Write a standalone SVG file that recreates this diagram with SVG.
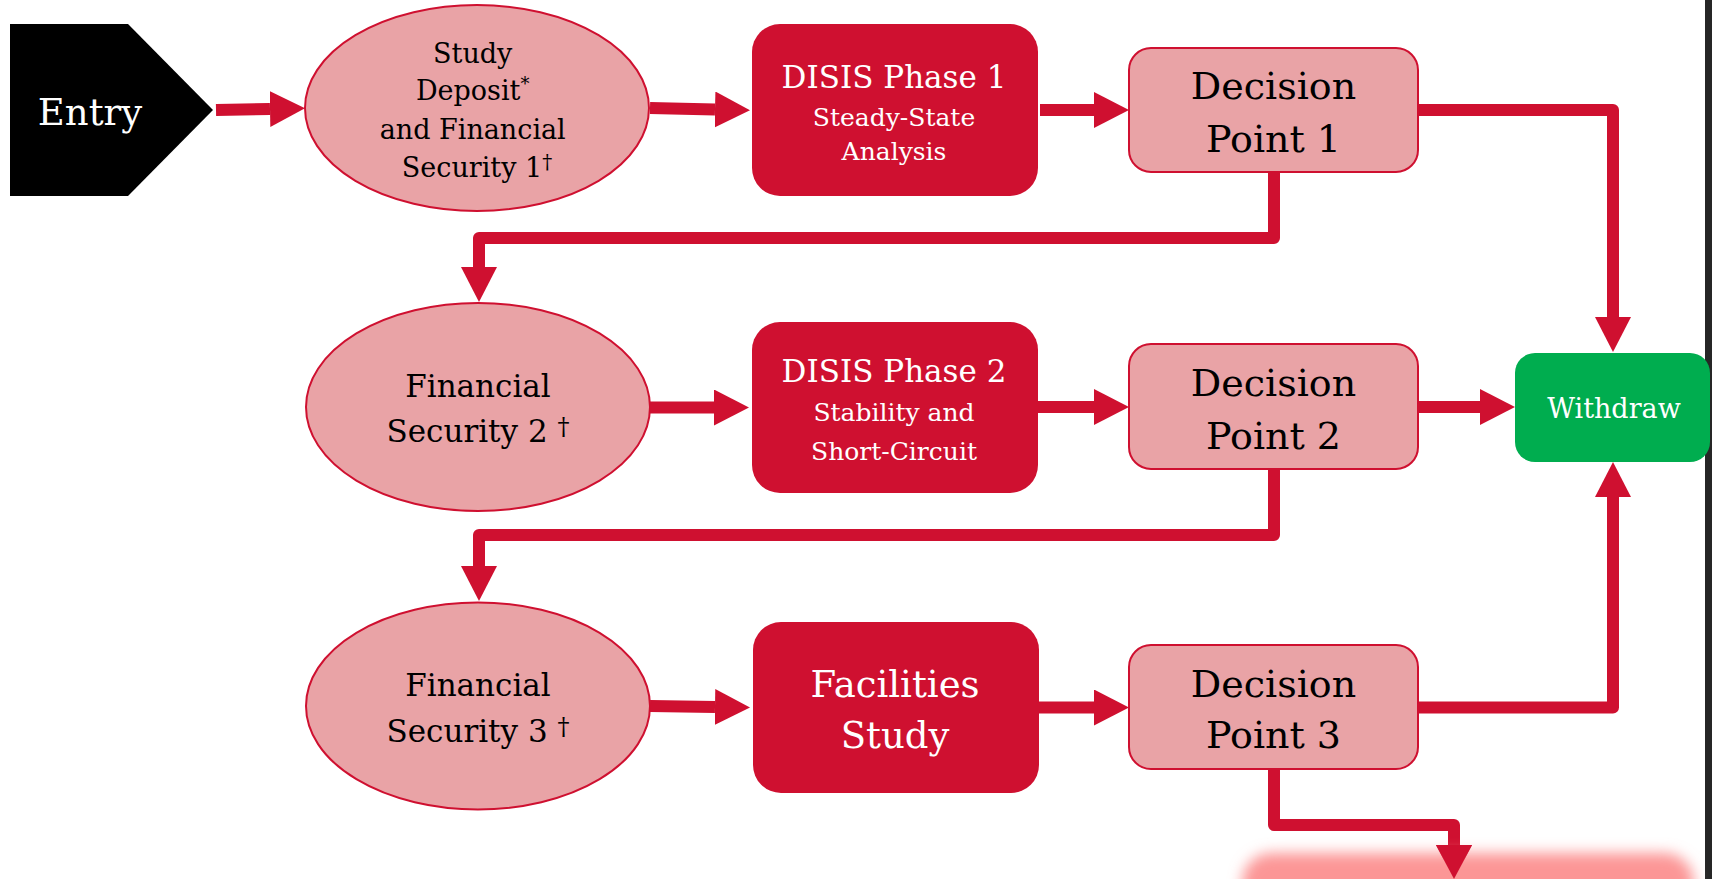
<svg xmlns="http://www.w3.org/2000/svg" width="1712" height="879" viewBox="0 0 1712 879">
<defs>
<style>
text{font-family:"DejaVu Serif","Liberation Serif",serif;text-anchor:middle}
.ell{fill:#E9A3A6;stroke:#CF1030;stroke-width:2}
.dp{fill:#E9A3A6;stroke:#CF1030;stroke-width:2}
.st{fill:#CF1030}
.blk{fill:#000}
.wt{fill:#fff}
.con{fill:none;stroke:#CF1030;stroke-width:12;stroke-linejoin:round;marker-end:url(#ah)}
</style>
<marker id="ah" markerUnits="userSpaceOnUse" markerWidth="36" markerHeight="36" refX="0" refY="18" orient="auto" viewBox="0 0 36 36">
<path d="M0,0 L35,18 L0,36 Z" fill="#CF1030"/>
</marker>
<filter id="blur" x="-10%" y="-50%" width="120%" height="200%">
<feGaussianBlur stdDeviation="7"/>
</filter>
</defs>
<rect width="1712" height="879" fill="#fff"/>
<rect x="1705" y="0" width="7" height="879" fill="#262626"/>

<g id="connectors">
<path class="con" d="M216,110 L270,109"/>
<path class="con" d="M650,108 L715,109.5"/>
<path class="con" d="M1040,110 L1094,110"/>
<path class="con" d="M1418,110 L1613,110 L1613,317"/>
<path class="con" d="M1274,172 L1274,238 L479,238 L479,267"/>
<path class="con" d="M650,407.5 L714,407.5"/>
<path class="con" d="M1038,407 L1094,407"/>
<path class="con" d="M1418,407 L1480,407"/>
<path class="con" d="M1274,469 L1274,535 L479,535 L479,566"/>
<path class="con" d="M650,706 L715,707"/>
<path class="con" d="M1039,707.5 L1094,707.5"/>
<path class="con" d="M1418,707.5 L1613,707.5 L1613,497"/>
<path class="con" d="M1274,769 L1274,825 L1454,825 L1454,845"/>
</g>

<g id="entry">
<polygon class="blk" points="10,24 128,24 213,110 128,196 10,196"/>
<text x="90" y="125" font-size="37" class="wt">Entry</text>
</g>

<g id="fs1">
<ellipse class="ell" cx="477" cy="108" rx="172" ry="103"/>
<text font-size="27" class="blk">
<tspan x="477" y="63">Study</tspan>
<tspan x="477" y="100">Deposit<tspan font-size="18" dy="-10">*</tspan></tspan>
<tspan x="477" y="139">and Financial</tspan>
<tspan x="477" y="177">Security 1<tspan font-size="20" dy="-8">†</tspan></tspan>
</text>
</g>

<g id="disis1">
<rect class="st" x="752" y="24" width="286" height="172" rx="28"/>
<text x="894" y="88" font-size="31" class="wt">DISIS Phase 1</text>
<text x="894" y="126" font-size="25" class="wt">Steady-State</text>
<text x="894" y="160" font-size="25" class="wt">Analysis</text>
</g>

<g id="dp1">
<rect class="dp" x="1129" y="48" width="289" height="124" rx="22"/>
<text x="1273.5" y="99" font-size="38" class="blk">Decision</text>
<text x="1273.5" y="152" font-size="38" class="blk">Point 1</text>
</g>

<g id="withdraw">
<rect x="1515" y="353" width="195" height="109" rx="20" fill="#00AD4F"/>
<text x="1614" y="418" font-size="27" class="wt">Withdraw</text>
</g>

<g id="fs2">
<ellipse class="ell" cx="478" cy="407" rx="172" ry="104"/>
<text x="478" y="397" font-size="31" class="blk">Financial</text>
<text font-size="31" class="blk"><tspan x="478" y="442">Security 2 <tspan font-size="24" dy="-7">†</tspan></tspan></text>
</g>

<g id="disis2">
<rect class="st" x="752" y="322" width="286" height="171" rx="28"/>
<text x="894" y="382" font-size="31" class="wt">DISIS Phase 2</text>
<text x="894" y="421" font-size="25" class="wt">Stability and</text>
<text x="894" y="460" font-size="25" class="wt">Short-Circuit</text>
</g>

<g id="dp2">
<rect class="dp" x="1129" y="344" width="289" height="125" rx="22"/>
<text x="1273.5" y="396" font-size="38" class="blk">Decision</text>
<text x="1273.5" y="449" font-size="38" class="blk">Point 2</text>
</g>

<g id="fs3">
<ellipse class="ell" cx="478" cy="706" rx="172" ry="103.5"/>
<text x="478" y="696" font-size="31" class="blk">Financial</text>
<text font-size="31" class="blk"><tspan x="478" y="742">Security 3 <tspan font-size="24" dy="-7">†</tspan></tspan></text>
</g>

<g id="facilities">
<rect class="st" x="753" y="622" width="286" height="171" rx="28"/>
<text x="895" y="697" font-size="37" class="wt">Facilities</text>
<text x="895" y="748" font-size="37" class="wt">Study</text>
</g>

<g id="dp3">
<rect class="dp" x="1129" y="645" width="289" height="124" rx="22"/>
<text x="1273.5" y="697" font-size="38" class="blk">Decision</text>
<text x="1273.5" y="748" font-size="38" class="blk">Point 3</text>
</g>

<g id="next">
<rect x="1242" y="853" width="452" height="60" rx="30" fill="#FC9696" filter="url(#blur)"/>
</g>
<path d="M1436,845 L1472,845 L1454,879 Z" fill="#CF1030"/>
</svg>
